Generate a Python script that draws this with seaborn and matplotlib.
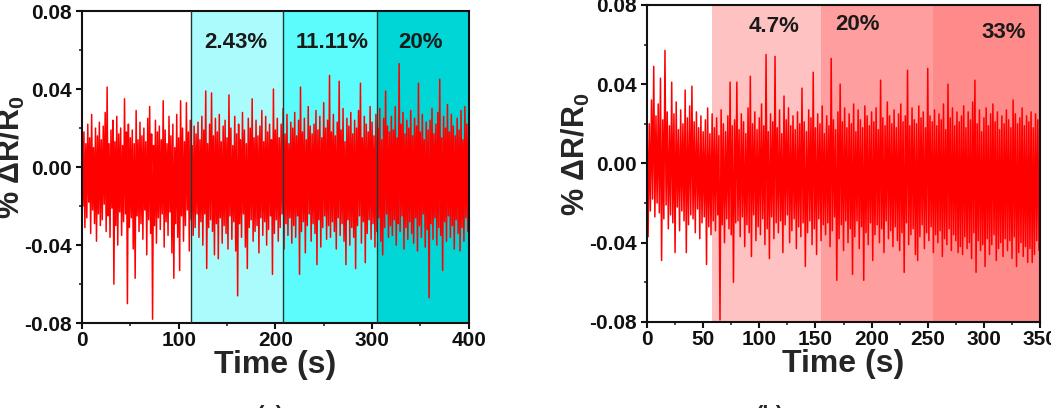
import numpy as np
import pandas as pd
import matplotlib
matplotlib.use("Agg")
import matplotlib.pyplot as plt
from matplotlib.ticker import MultipleLocator, FormatStrFormatter
import seaborn as sns

# panel (a): signal sampled every 1 s, values in units of 1e-3 (% dR/R0)
time_a = list(range(0, 401))
signal_a = [
    25, -20, 18, -31, 12, -26, 22, -18, 15, -34, 27, -22, 10, -29, 20, -38, 16, -24, 23, -30,
    14, -27, 21, -19, 28, -33, 41, -25, 12, -36, 19, -21, 24, -60, 13, -30, 26, -40, 17, -23,
    20, -35, 11, -28, 35, -24, 18, -70, 22, -31, 15, -26, 19, -42, 12, -57, 29, -25, 14, -33,
    23, -29, 16, -37, 20, -22, 13, -45, 25, -27, 31, -34, 17, -78, 11, -30, 24, -39, 18, -26,
    21, -32, 14, -24, 34, -41, 19, -28, 12, -35, 26, -23, 16, -44, 22, -57, 10, -29, 27, -36,
    15, -53, 34, -25, 20, -38, 13, -30, 33, -22, 18, -43, 24, -27, 11, -35, 21, -31, 17, -24,
    23, -36, 14, -28, 26, -40, 19, -24, 39, -52, 12, -31, 22, -27, 38, -33, 16, -45, 25, -29,
    18, -47, 27, -26, 13, -39, 21, -30, 24, -34, 15, -42, 37, -25, 20, -37, 11, -28, 26, -43,
    17, -66, 22, -29, 14, -36, 28, -24, 19, -41, 12, -52, 25, -31, 20, -27, 35, -38, 15, -33,
    24, -30, 16, -44, 21, -26, 29, -35, 13, -28, 26, -40, 18, -32, 22, -25, 14, -55, 40, -34,
    19, -27, 25, -38, 15, -31, 22, -24, 30, -42, 17, -29, 27, -35, 12, -26, 23, -39, 20, -30,
    28, -36, 16, -25, 24, -55, 41, -33, 18, -28, 25, -44, 14, -30, 31, -24, 21, -38, 17, -29,
    22, -34, 29, -50, 19, -27, 26, -41, 15, -31, 33, -25, 20, -37, 24, -30, 47, -36, 18, -28,
    27, -33, 16, -42, 23, -26, 44, -35, 19, -29, 30, -38, 13, -50, 25, -27, 21, -40, 28, -31,
    17, -36, 24, -52, 20, -30, 29, -25, 43, -39, 15, -28, 26, -49, 22, -34, 18, -27, 31, -37,
    23, -29, 16, -41, 27, -33, 20, -26, 30, -38, 14, -45, 25, -31, 39, -24, 21, -36, 18, -30,
    26, -35, 19, -27, 31, -40, 15, -29, 53, -33, 22, -25, 28, -42, 17, -31, 24, -37, 20, -28,
    29, -34, 16, -39, 25, -26, 21, -43, 43, -30, 18, -36, 27, -24, 14, -41, 23, -32, 19, -67,
    24, -29, 30, -37, 17, -26, 22, -40, 28, -31, 45, -35, 15, -53, 26, -28, 20, -38, 32, -25,
    18, -36, 27, -30, 21, -42, 16, -27, 25, -34, 19, -43, 29, -31, 14, -38, 31, -26, 22, -33,
    20,
]
zones_a = [113, 208, 305, 400]
zone_labels_a = ["2.43%", "11.11%", "20%"]
zone_colors_a = ["#aafcfc", "#5cfcfc", "#00d6d6"]

# panel (b)
time_b = list(range(0, 351))
signal_b = [
    28, -37, 20, -24, 32, -18, 49, -27, 24, -20, 30, -25, 43, -49, 22, -28, 57, -21, 26, -33,
    19, -26, 41, -30, 25, -45, 31, -22, 17, -34, 27, -24, 20, -29, 37, -45, 23, -31, 29, -26,
    39, -28, 21, -35, 26, -23, 18, -38, 24, -30, 16, -27, 22, -51, 28, -32, 15, -36, 25, -29,
    18, -34, 23, -26, 14, -79, 27, -31, 20, -40, 16, -28, 24, -33, 41, -36, 19, -60, 22, -30,
    41, -29, 17, -37, 25, -27, 21, -42, 15, -31, 28, -35, 44, -47, 20, -26, 26, -39, 17, -32,
    23, -36, 30, -28, 19, -41, 55, -33, 16, -48, 25, -27, 21, -38, 54, -30, 18, -35, 27, -29,
    15, -45, 34, -31, 22, -26, 28, -40, 19, -34, 24, -28, 17, -43, 26, -32, 20, -37, 38, -30,
    21, -52, 16, -35, 27, -29, 23, -41, 46, -33, 18, -46, 25, -28, 20, -39, 29, -31, 15, -36,
    24, -30, 19, -42, 53, -34, 22, -27, 17, -59, 26, -38, 40, -31, 21, -44, 28, -29, 18, -40,
    25, -33, 20, -56, 30, -37, 16, -29, 27, -43, 22, -32, 18, -59, 29, -35, 24, -41, 19, -30,
    26, -49, 21, -36, 28, -31, 17, -40, 42, -33, 23, -45, 19, -29, 31, -38, 24, -34, 20, -42,
    27, -32, 18, -39, 25, -44, 30, -35, 21, -55, 24, -30, 47, -41, 19, -36, 28, -33, 22, -46,
    20, -49, 29, -37, 23, -31, 26, -43, 18, -35, 48, -39, 24, -32, 21, -45, 27, -36, 19, -40,
    25, -34, 22, -47, 30, -38, 17, -41, 40, -33, 23, -44, 28, -36, 19, -39, 26, -45, 21, -42,
    24, -46, 29, -37, 18, -43, 26, -40, 22, -48, 31, -35, 42, -55, 20, -39, 27, -44, 16, -41,
    23, -52, 28, -38, 19, -46, 25, -41, 30, -36, 21, -49, 26, -43, 17, -40, 24, -47, 20, -38,
    27, -44, 22, -39, 18, -48, 32, -37, 25, -52, 20, -45, 23, -40, 28, -47, 19, -42, 24, -50,
    21, -43, 26, -50, 18, -46, 25, -39, 22, -44, 20,
]
zones_b = [58, 155, 255, 350]
zone_labels_b = ["4.7%", "20%", "33%"]
zone_colors_b = ["#ffc2c2", "#ff9e9e", "#ff8a8a"]

sns.set_theme(style="ticks")
plt.rcParams["font.family"] = ["Liberation Sans", "DejaVu Sans"]
plt.rcParams["font.weight"] = "bold"
plt.rcParams["mathtext.fontset"] = "custom"
plt.rcParams["mathtext.rm"] = "Liberation Sans:bold"
plt.rcParams["mathtext.bf"] = "Liberation Sans:bold"
plt.rcParams["mathtext.it"] = "Liberation Sans:bold"

fig = plt.figure(figsize=(10.51, 4.08), dpi=100)
ax_a = fig.add_axes([0.078, 0.208, 0.368, 0.765])
ax_b = fig.add_axes([0.6156, 0.211, 0.374, 0.777])


def draw_panel(ax, t, sig, zones, labels, colors, xmax, xmajor, text_pos, edge_lines, tag, tag_x):
    df = pd.DataFrame({"t": t, "v": np.array(sig) * 1e-3})
    for i in range(len(labels)):
        ax.axvspan(zones[i], zones[i + 1], color=colors[i], lw=0, zorder=0)
        if edge_lines:
            ax.axvline(zones[i], color="#1a3a3a", lw=1.0, zorder=3)
    sns.lineplot(data=df, x="t", y="v", ax=ax, color="#ff0000", lw=1.1,
                 estimator=None, zorder=2)
    for lab, (x, y) in zip(labels, text_pos):
        ax.text(x, y, lab, ha="center", va="center", fontsize=16,
                fontweight="bold", color="#1a1a1a", zorder=4)
    ax.set_xlim(0, xmax)
    ax.set_ylim(-0.08, 0.08)
    ax.xaxis.set_major_locator(MultipleLocator(xmajor))
    ax.xaxis.set_minor_locator(MultipleLocator(xmajor / 2))
    ax.yaxis.set_major_locator(MultipleLocator(0.04))
    ax.yaxis.set_minor_locator(MultipleLocator(0.02))
    ax.yaxis.set_major_formatter(FormatStrFormatter("%.2f"))
    ax.tick_params(which="major", direction="out", length=4, width=1.5,
                   labelsize=15, colors="#111111")
    ax.tick_params(axis="x", which="major", pad=2)
    ax.tick_params(axis="y", which="major", pad=3.5)
    ax.tick_params(which="minor", direction="out", length=2.5, width=1.2)
    for s in ax.spines.values():
        s.set_linewidth(1.5)
        s.set_color("#111111")
    ax.set_xlabel("Time (s)", fontsize=23, fontweight="bold", labelpad=0)
    ax.set_ylabel("% ΔR/R$_0$", fontsize=22, fontweight="bold")
    w_px = ax.get_position().width * fig.get_figwidth() * fig.dpi
    ax.yaxis.set_label_coords(-55 / w_px, 0.53)
    ax.set_facecolor("white")
    fig.text(tag_x, -0.045, tag, ha="center", va="bottom", fontsize=16, fontweight="bold")


draw_panel(ax_a, time_a, signal_a, zones_a, zone_labels_a, zone_colors_a, 400, 100,
           [(159, 0.064), (259, 0.064), (350, 0.064)], True, "(a)", 0.257)
draw_panel(ax_b, time_b, signal_b, zones_b, zone_labels_b, zone_colors_b, 350, 50,
           [(113, 0.069), (187, 0.070), (318, 0.066)], False, "(b)", 0.733)

fig.savefig("out.png", dpi=100)
